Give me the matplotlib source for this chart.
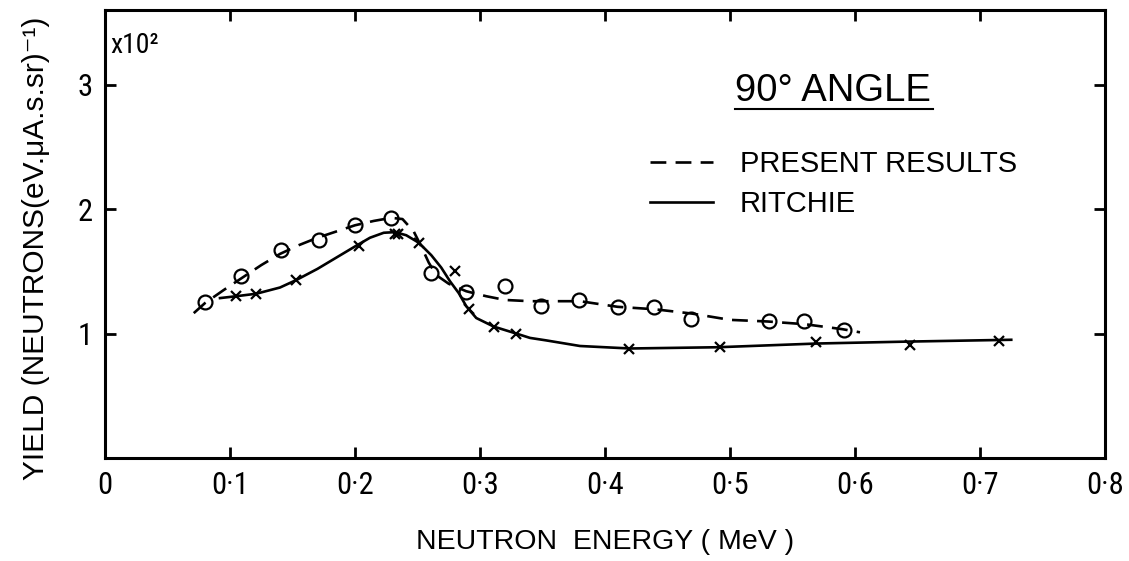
import matplotlib
matplotlib.use('Agg')
import matplotlib.pyplot as plt
from matplotlib import font_manager

# narrow sans for the numbers, a plain sans for the words
names = set(f.name for f in font_manager.fontManager.ttflist)
narrow = 'DejaVu Sans'
for cand in ['Roboto Condensed', 'Liberation Sans Narrow', 'DejaVu Sans Condensed', 'Liberation Sans']:
    if cand in names:
        narrow = cand
        break
plt.rcParams['font.family'] = [narrow, 'DejaVu Sans']
words = ['Liberation Sans', 'DejaVu Sans']

# present results: measured points (circles) and the dashed curve through them
presX = [0.080, 0.109, 0.141, 0.171, 0.200, 0.229, 0.261, 0.289, 0.320, 0.349,
         0.379, 0.410, 0.439, 0.469, 0.531, 0.559, 0.591]
presY = [1.25, 1.46, 1.675, 1.75, 1.87, 1.93, 1.49, 1.335, 1.385, 1.22,
         1.27, 1.21, 1.21, 1.12, 1.097, 1.097, 1.03]
presCurveX = [0.071, 0.080, 0.095, 0.110, 0.125, 0.140, 0.155, 0.170, 0.185, 0.200,
              0.215, 0.229, 0.238, 0.247, 0.253, 0.259, 0.265, 0.275, 0.289, 0.305,
              0.320, 0.340, 0.380, 0.410, 0.440, 0.470, 0.500, 0.530, 0.560, 0.590, 0.604]
presCurveY = [1.164, 1.245, 1.35, 1.45, 1.55, 1.64, 1.71, 1.77, 1.82, 1.87,
              1.905, 1.93, 1.92, 1.82, 1.70, 1.57, 1.47, 1.40, 1.34, 1.30,
              1.27, 1.26, 1.26, 1.215, 1.195, 1.16, 1.11, 1.097, 1.075, 1.035, 1.01]

# Ritchie: points (crosses) and solid curve
ritX = [0.105, 0.121, 0.153, 0.203, 0.232, 0.2346, 0.251, 0.280, 0.291, 0.311,
        0.329, 0.419, 0.492, 0.569, 0.644, 0.7155]
ritY = [1.30, 1.32, 1.43, 1.70, 1.80, 1.80, 1.73, 1.50, 1.20, 1.056,
        1.00, 0.877, 0.895, 0.935, 0.908, 0.94]
ritCurveX = [0.092, 0.105, 0.121, 0.140, 0.153, 0.170, 0.185, 0.200, 0.212, 0.223,
             0.232, 0.241, 0.251, 0.261, 0.269, 0.276, 0.283, 0.289, 0.297, 0.311,
             0.329, 0.340, 0.353, 0.380, 0.420, 0.490, 0.570, 0.640, 0.725]
ritCurveY = [1.285, 1.30, 1.32, 1.37, 1.43, 1.52, 1.61, 1.70, 1.77, 1.81,
             1.815, 1.79, 1.73, 1.63, 1.53, 1.42, 1.325, 1.22, 1.125, 1.056,
             1.00, 0.965, 0.945, 0.90, 0.88, 0.89, 0.92, 0.935, 0.95]

xTicks = [0, 0.1, 0.2, 0.3, 0.4, 0.5, 0.6, 0.7, 0.8]
xTickLabels = ['0', '0·1', '0·2', '0·3', '0·4', '0·5', '0·6', '0·7', '0·8']
yTicks = [1, 2, 3]
yTickLabels = ['1', '2', '3']

fig = plt.figure(figsize=(11.29, 5.61), dpi=100)
ax = fig.add_axes([105 / 1129, 1 - 458 / 561, 1000 / 1129, 448 / 561])

ax.plot(presCurveX, presCurveY, color='black', linewidth=1.9,
        dashes=(6, 3.5), label='PRESENT RESULTS')
ax.plot(presX, presY, linestyle='none', marker='o', markersize=10,
        markerfacecolor='none', markeredgecolor='black', markeredgewidth=1.6)
ax.plot(ritCurveX, ritCurveY, color='black', linewidth=1.9, label='RITCHIE')
ax.plot(ritX, ritY, linestyle='none', marker='x', markersize=7,
        markeredgecolor='black', markeredgewidth=1.6)

ax.set_xlim(0, 0.8)
ax.set_ylim(0, 3.6)
ax.set_xticks(xTicks)
ax.set_xticklabels(xTickLabels)
ax.set_yticks(yTicks)
ax.set_yticklabels(yTickLabels)
ax.tick_params(direction='in', length=8, width=2, labelsize=22,
               top=True, right=True)
ax.tick_params(axis='x', pad=9)
ax.tick_params(axis='y', pad=9)
for s in ax.spines.values():
    s.set_linewidth(2.2)

ax.set_xlabel('NEUTRON  ENERGY ( MeV )', fontsize=20.5, family=words)
ax.xaxis.set_label_coords(0.5, -0.158)
ax.xaxis.label.set_va('top')
ax.set_ylabel('YIELD (NEUTRONS(eV.μA.s.sr)⁻¹)', fontsize=21.5, family=words)
ax.yaxis.set_label_coords(-0.055, 0.469)

ax.text(0.005, 0.952, 'x10²', transform=ax.transAxes, fontsize=20,
        ha='left', va='top')
ax.text(0.504, 2.87, '90° ANGLE', fontsize=27.5, family=words,
        ha='left', va='baseline')
ax.plot([0.504, 0.662], [2.806, 2.806], color='black', linewidth=1.5)

ax.legend(loc='upper left', bbox_to_anchor=(0.545, 0.688), frameon=False,
          borderpad=0, borderaxespad=0, prop={'family': words, 'size': 21},
          handlelength=2.16, handletextpad=0.92, labelspacing=0.42)

fig.savefig('out.png', dpi=100)
